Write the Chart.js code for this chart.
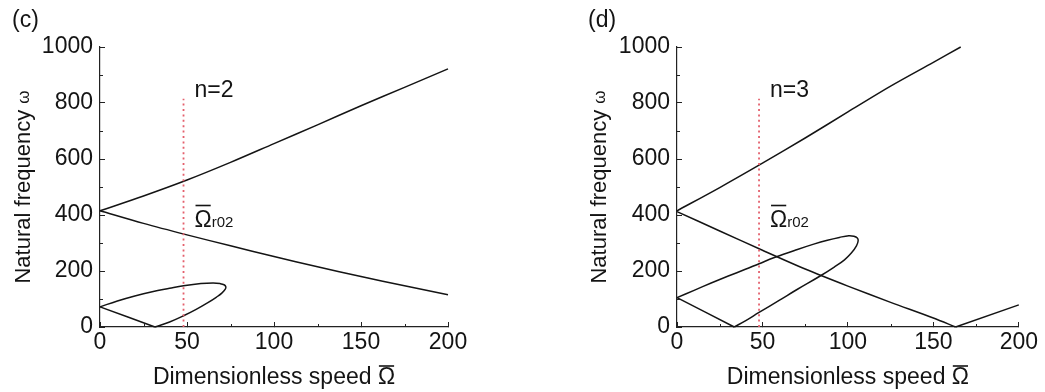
<!DOCTYPE html>
<html>
<head>
<meta charset="utf-8">
<title>Natural frequency vs dimensionless speed</title>
<script src="https://cdn.jsdelivr.net/npm/chart.js@4.4.1/dist/chart.umd.min.js"></script>
<style>
  html, body { margin: 0; padding: 0; background: #fff; }
  .wrap { position: relative; width: 1045px; height: 392px; overflow: hidden; }
  .panel { position: absolute; top: 0; width: 520px; height: 392px; }
  #panelC { left: 0; }
  #panelD { left: 525px; }
</style>
</head>
<body>
<div class="wrap">
  <div class="panel" id="panelC"><canvas id="chartC" width="520" height="392"></canvas></div>
  <div class="panel" id="panelD"><canvas id="chartD" width="520" height="392"></canvas></div>
</div>
<script>
// ── Data ─────────────────────────────────────────────────────
const speedTicks = [0, 50, 100, 150, 200];
const freqTicks  = [0, 200, 400, 600, 800, 1000];
const minorSpeed = [25, 75, 125, 175];
const minorFreq  = [100, 300, 500, 700, 900];

// dotted marker at the critical speed Ω̄r02
const markerSpeed = [48, 48];
const markerFreq  = [0, 815];

// panel (c), n = 2
const cUpSpeed   = [0, 25, 50, 75, 100, 125, 150, 175, 200];
const cUpFreq    = [415, 468, 525, 588, 655, 722, 790, 856, 922];
const cDownSpeed = [0, 25, 50, 75, 100, 125, 150, 175, 200];
const cDownFreq  = [415, 370, 329, 290, 252, 215, 180, 147, 115];
const cDipSpeed  = [0, 16, 31.6];
const cDipFreq   = [72, 36, 0];
const cLoopSpeed = [31.6, 40, 48, 55, 62, 67, 70, 72, 72.3, 71.3, 69, 65, 58, 48, 40, 30, 20, 10, 0];
const cLoopFreq  = [0, 18, 40, 62, 87, 107, 121, 135, 144, 151, 155, 157, 155, 147, 138, 126, 111, 93, 72];

// panel (d), n = 3
const dUpSpeed   = [0, 25, 50, 75, 100, 125, 150, 166];
const dUpFreq    = [415, 498, 585, 675, 768, 860, 945, 1000];
const dDownSpeed = [0, 25, 50, 75, 100, 125, 150, 163];
const dDownFreq  = [412, 343, 274, 207, 146, 88, 32, 0];
const dRiseSpeed = [163, 200];
const dRiseFreq  = [0, 79];
const dDipSpeed  = [0, 16, 33.5];
const dDipFreq   = [105, 55, 0];
const dLoopSpeed = [33.5, 40, 48, 60, 70, 84, 92, 98, 102, 105, 106, 105.5, 103.5, 100.5, 95, 88, 80, 70, 57, 48, 40, 30, 20, 10, 0];
const dLoopFreq  = [0, 22, 52, 96, 133, 183, 214, 240, 264, 290, 308, 318, 324, 326, 320, 310, 296, 276, 248, 226, 206, 182, 157, 131, 105];

// ── Helpers ──────────────────────────────────────────────────
const FONT = '"Liberation Sans", Arial, Helvetica, sans-serif';
const INK = '#141414';

const pts = (xs, ys) => xs.map((x, i) => ({ x, y: ys[i] }));

function curve(xs, ys, tension) {
  return { data: pts(xs, ys), borderColor: INK, borderWidth: 1.5, pointRadius: 0,
           showLine: true, fill: false, tension: tension, clip: false };
}
function marker() {
  return { data: pts(markerSpeed, markerFreq), borderColor: '#e4606d', borderWidth: 1.8,
           borderDash: [2, 3.4], pointRadius: 0, showLine: true, fill: false, tension: 0, clip: false };
}

// text + minor ticks drawn on top of each panel
const figureText = {
  id: 'figureText',
  afterDraw(chart, args, o) {
    const { ctx, chartArea: a, scales: { x, y } } = chart;
    ctx.save();
    // minor ticks, pointing inward
    ctx.strokeStyle = '#222'; ctx.lineWidth = 1;
    ctx.beginPath();
    minorSpeed.forEach(v => { const px = Math.round(x.getPixelForValue(v)) + 0.5; ctx.moveTo(px, a.bottom); ctx.lineTo(px, a.bottom - 3); });
    minorFreq.forEach(v => { const py = Math.round(y.getPixelForValue(v)) + 0.5; ctx.moveTo(a.left, py); ctx.lineTo(a.left + 3, py); });
    ctx.stroke();

    ctx.fillStyle = INK;
    ctx.textBaseline = 'alphabetic';
    ctx.textAlign = 'left';

    // panel tag
    ctx.font = '23px ' + FONT;
    ctx.fillText(o.tag, o.tagX, 27);

    // y title: "Natural frequency ω"
    ctx.save();
    ctx.translate(o.yTitleBase, (a.top + a.bottom) / 2);
    ctx.rotate(-Math.PI / 2);
    ctx.font = '22px ' + FONT;
    const t1 = 'Natural frequency ';
    const w1 = ctx.measureText(t1).width;
    ctx.font = '17px ' + FONT;
    const w2 = ctx.measureText('ω').width;
    const s = -(w1 + w2) / 2;
    ctx.font = '22px ' + FONT;
    ctx.fillText(t1, s, 0);
    ctx.font = '17px ' + FONT;
    ctx.fillText('ω', s + w1, -1);
    ctx.restore();

    // x title: "Dimensionless speed Ω̄"
    ctx.font = '23px ' + FONT;
    const t3 = 'Dimensionless speed ';
    const w3 = ctx.measureText(t3).width;
    const w4 = ctx.measureText('Ω').width;
    const xs = (a.left + a.right) / 2 - (w3 + w4) / 2;
    ctx.fillText(t3, xs, 384);
    ctx.fillText('Ω', xs + w3, 384);
    ctx.lineWidth = 1.6; ctx.strokeStyle = INK;
    ctx.beginPath(); ctx.moveTo(xs + w3 + 1, 366); ctx.lineTo(xs + w3 + w4 - 1, 366); ctx.stroke();

    // annotations next to the dotted marker
    const mx = x.getPixelForValue(markerSpeed[0]) + 11;
    ctx.font = '23px ' + FONT;
    ctx.fillText(o.mode, mx, 97);
    const wo = ctx.measureText('Ω').width;
    ctx.fillText('Ω', mx, 227);
    ctx.beginPath(); ctx.moveTo(mx + 1, 205.5); ctx.lineTo(mx + wo - 1, 205.5); ctx.stroke();
    ctx.font = '15px ' + FONT;
    ctx.fillText('r02', mx + wo, 227);
    ctx.restore();
  }
};

function makeChart(id, datasets, p) {
  const tickFont = { family: FONT, size: 23 };
  return new Chart(document.getElementById(id), {
    type: 'scatter',
    data: { datasets },
    plugins: [figureText],
    options: {
      responsive: false, animation: false, devicePixelRatio: 1,
      layout: { padding: { left: p.padLeft, right: p.padRight, top: 47, bottom: 0 } },
      plugins: { legend: { display: false }, tooltip: { enabled: false }, figureText: p },
      scales: {
        x: {
          type: 'linear', min: 0, max: 200,
          afterBuildTicks: s => { s.ticks = speedTicks.map(v => ({ value: v })); },
          afterFit: s => { s.height = 65; },
          grid: { drawOnChartArea: false, drawTicks: true, tickLength: -5, tickColor: '#222', tickWidth: 1 },
          border: { display: true, color: '#222', width: 1.2 },
          ticks: { padding: 7, autoSkip: false, maxRotation: 0, color: INK, font: tickFont, callback: v => String(v) }
        },
        y: {
          type: 'linear', min: 0, max: 1000,
          afterBuildTicks: s => { s.ticks = freqTicks.map(v => ({ value: v })); },
          afterFit: s => { s.width = p.yWidth; },
          grid: { drawOnChartArea: false, drawTicks: true, tickLength: -5, tickColor: '#222', tickWidth: 1 },
          border: { display: true, color: '#222', width: 1.2 },
          ticks: { padding: 12, autoSkip: false, color: INK, font: tickFont, callback: v => String(v) }
        }
      }
    }
  });
}

// ── Panels ───────────────────────────────────────────────────
makeChart('chartC', [
  marker(),
  curve(cUpSpeed, cUpFreq, 0.3),
  curve(cDownSpeed, cDownFreq, 0.3),
  curve(cDipSpeed, cDipFreq, 0),
  curve(cLoopSpeed, cLoopFreq, 0.4)
], { padLeft: 9, yWidth: 91, padRight: 72, tag: '(c)', tagX: 12, yTitleBase: 30, mode: 'n=2' });

makeChart('chartD', [
  marker(),
  curve(dUpSpeed, dUpFreq, 0.3),
  curve(dDownSpeed, dDownFreq, 0.3),
  curve(dRiseSpeed, dRiseFreq, 0),
  curve(dDipSpeed, dDipFreq, 0),
  curve(dLoopSpeed, dLoopFreq, 0.4)
], { padLeft: 60, yWidth: 92, padRight: 20, tag: '(d)', tagX: 63, yTitleBase: 81, mode: 'n=3' });
</script>
</body>
</html>
